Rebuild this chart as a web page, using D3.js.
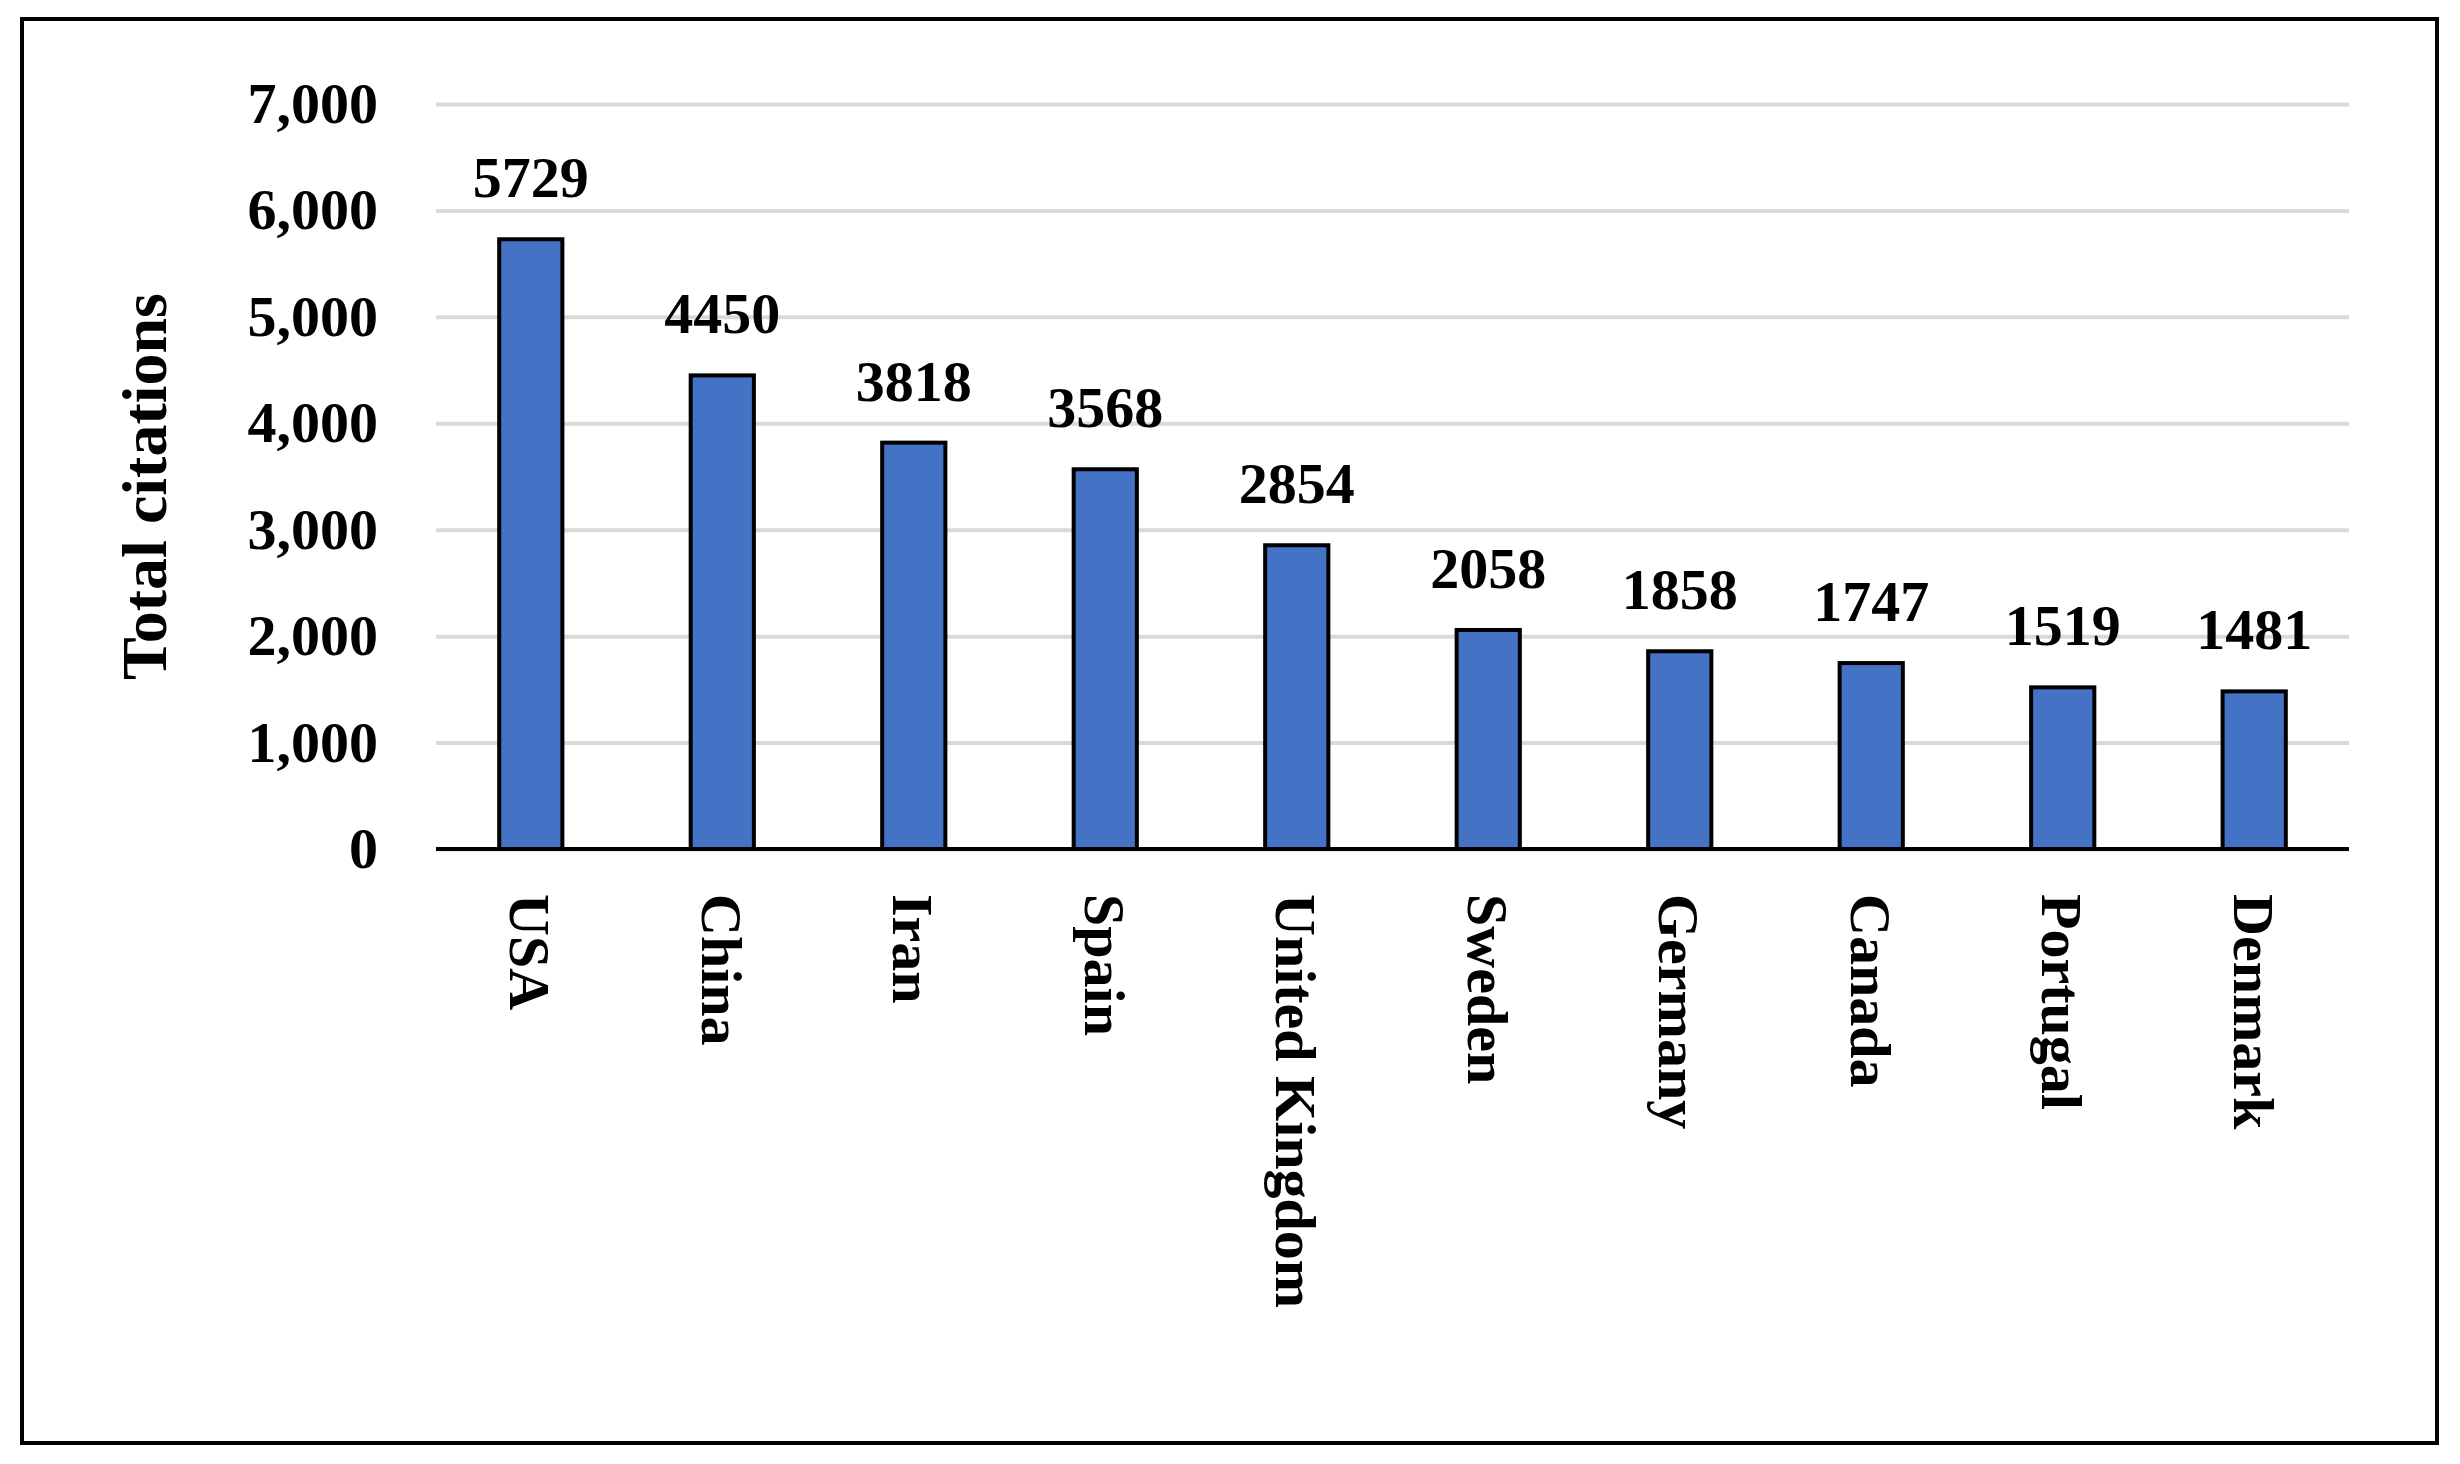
<!DOCTYPE html>
<html>
<head>
<meta charset="utf-8">
<script src="https://cdn.jsdelivr.net/npm/d3@7"></script>
<style>
  body { margin: 0; background: #fff; }
  text { font-family: "Liberation Serif", "Times New Roman", serif; font-weight: bold; }
</style>
</head>
<body>
<div id="chart"></div>
<script>
// Data
const countries = ["USA", "China", "Iran", "Spain", "United Kingdom", "Sweden", "Germany", "Canada", "Portugal", "Denmark"];
const citations = [5729, 4450, 3818, 3568, 2854, 2058, 1858, 1747, 1519, 1481];
const yTicks = [0, 1000, 2000, 3000, 4000, 5000, 6000, 7000];

const W = 2460, H = 1464;
const margin = { top: 104, right: 111, bottom: 615, left: 436 };
const width = W - margin.left - margin.right;
const height = H - margin.top - margin.bottom;

const root = d3.select("#chart").append("svg")
    .attr("width", W)
    .attr("height", H);

// Outer frame
root.append("rect")
    .attr("x", 22).attr("y", 19)
    .attr("width", 2415).attr("height", 1424)
    .attr("fill", "none").attr("stroke", "#000").attr("stroke-width", 4);

const svg = root.append("g")
    .attr("transform", `translate(${margin.left},${margin.top})`);

const x = d3.scaleBand()
    .domain(countries)
    .range([0, width])
    .paddingInner(0.67)
    .paddingOuter(0.33);

const y = d3.scaleLinear()
    .domain([0, 7000])
    .range([height, 0]);

// Gridlines + y labels
const yAxis = svg.append("g")
    .call(d3.axisLeft(y).tickValues(yTicks).tickSize(-width).tickPadding(58))
    .style("font-size", "58px");
yAxis.select(".domain").remove();
yAxis.selectAll(".tick line").attr("stroke", "#d9d9d9").attr("stroke-width", 4);
yAxis.selectAll(".tick text")
    .attr("fill", "#000")
    .style("font-family", "Liberation Serif")
    .style("font-weight", "bold");

// Bars
svg.selectAll(".bar")
    .data(countries)
    .enter()
    .append("rect")
    .attr("class", "bar")
    .attr("x", d => x(d))
    .attr("width", x.bandwidth())
    .attr("y", (d, i) => y(citations[i]))
    .attr("height", (d, i) => height - y(citations[i]))
    .attr("fill", "#4472c4")
    .attr("stroke", "#000")
    .attr("stroke-width", 4);

// Value labels
svg.selectAll(".bar-label")
    .data(countries)
    .enter()
    .append("text")
    .attr("class", "bar-label")
    .attr("text-anchor", "middle")
    .attr("x", d => x(d) + x.bandwidth() / 2)
    .attr("y", (d, i) => y(citations[i]) - 42)
    .style("font-size", "58px")
    .text((d, i) => citations[i]);

// X axis baseline
svg.append("line")
    .attr("x1", 0).attr("x2", width)
    .attr("y1", height).attr("y2", height)
    .attr("stroke", "#000").attr("stroke-width", 4);

// Category labels, rotated
svg.selectAll(".cat")
    .data(countries)
    .enter()
    .append("text")
    .attr("class", "cat")
    .attr("transform", d => `translate(${x(d) + x.bandwidth() / 2},${height + 45}) rotate(90)`)
    .attr("dy", "0.35em")
    .attr("text-anchor", "start")
    .style("font-size", "58px")
    .text(d => d);

// Y axis title
svg.append("text")
    .attr("transform", `translate(-270,${height / 2 + 10}) rotate(-90)`)
    .attr("text-anchor", "middle")
    .style("font-size", "64px")
    .text("Total citations");
</script>
</body>
</html>
